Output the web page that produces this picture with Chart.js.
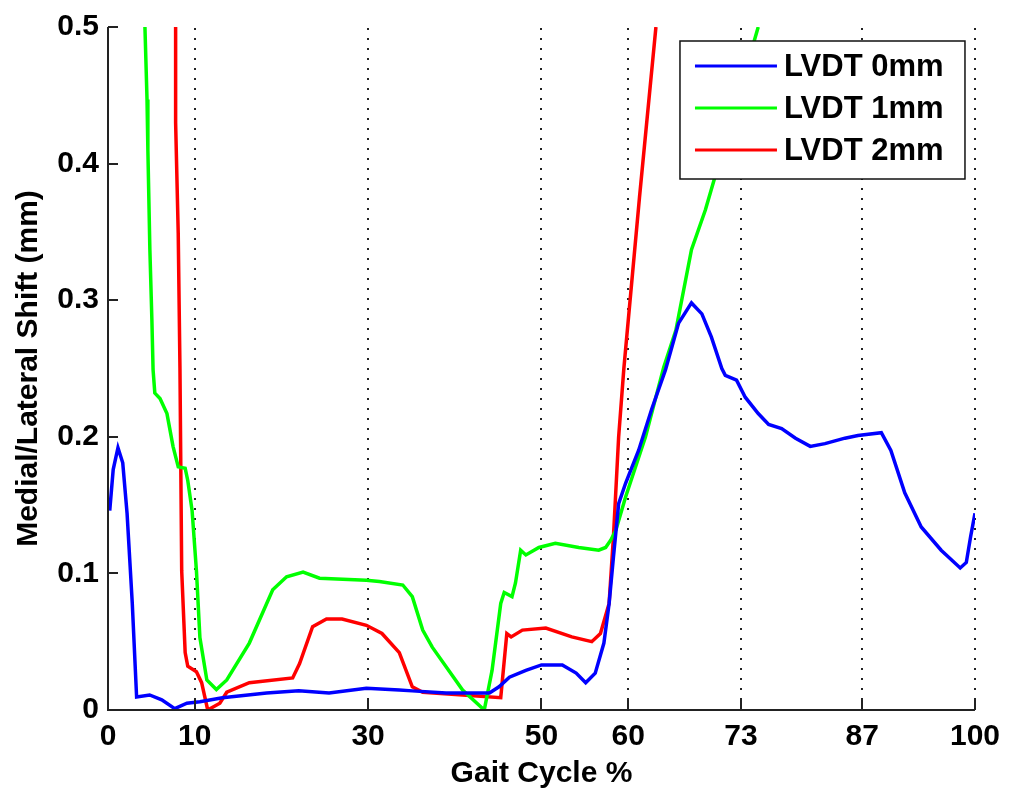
<!DOCTYPE html>
<html>
<head>
<meta charset="utf-8">
<script src="https://cdn.jsdelivr.net/npm/chart.js@4"></script>
<style>
  html, body { margin: 0; padding: 0; background: #fff; }
</style>
</head>
<body>
<canvas id="myChart" width="1009" height="795"></canvas>
<script>
// x ticks used in the figure (gait cycle %)
var xTicks = [0, 10, 30, 50, 60, 73, 87, 100];
var yTicks = [0, 0.1, 0.2, 0.3, 0.4, 0.5];

var seriesNames = ['LVDT 0mm', 'LVDT 1mm', 'LVDT 2mm'];
var seriesColors = ['#0000ff', '#00ff00', '#ff0000'];

// LVDT 0mm
var blueX = [0.2, 0.6, 1.15, 1.7, 2.2, 2.8, 3.3, 4.8, 6.2, 7.7, 9.1, 10.6, 13.2, 18.3, 22, 25.5, 29.8, 33.6,
  35.1, 39, 44, 45.1, 46.3, 48.2, 50, 52.4, 54, 55.1, 56.2, 57.2, 57.8, 58.3, 58.9, 59.7, 61.2, 62.7, 64.3,
  65.8, 67.3, 68.5, 69.6, 70.8, 71.2, 72.5, 73.5, 75, 76.2, 77.7, 79.3, 81, 82.7, 85, 86.5, 89.2, 90.3,
  91.9, 93.8, 96.1, 98.3, 99, 99.5, 100];
var blueY = [0.146, 0.176, 0.192, 0.181, 0.144, 0.078, 0.0095, 0.011, 0.0075, 0.001, 0.005, 0.006, 0.009, 0.0125, 0.014, 0.0125, 0.016, 0.0146,
  0.014, 0.0125, 0.0125, 0.017, 0.024, 0.029, 0.033, 0.033, 0.027, 0.020, 0.027, 0.049, 0.078, 0.112, 0.151, 0.166, 0.19, 0.22, 0.249,
  0.283, 0.298, 0.29, 0.273, 0.25, 0.245, 0.2415, 0.229, 0.217, 0.209, 0.206, 0.199, 0.193, 0.195, 0.199, 0.201, 0.203, 0.19,
  0.159, 0.134, 0.117, 0.104, 0.108, 0.127, 0.144];

// LVDT 1mm
var greenX = [4.26, 4.5, 4.6, 4.83, 5.06, 5.2, 5.4, 6.0, 6.8, 7.5, 8.1, 8.9, 9.2, 9.7, 10.2, 10.6, 11.4, 12.5, 13.7,
  16.3, 19, 20.6, 22.5, 24.4, 29.8, 31.3, 34, 35.1, 36.3, 37.4, 40.9, 43.4, 44.3, 45.3, 45.7, 46.6, 47, 47.6, 48.2,
  49.7, 51.6, 54.3, 56.6, 57.4, 58, 58.6, 59.7, 62, 64.1, 65.5, 67.3, 68.9, 70, 72.5, 75];
var greenY = [0.5, 0.447, 0.41, 0.337, 0.286, 0.249, 0.232, 0.228, 0.217, 0.193, 0.178, 0.177, 0.168, 0.146, 0.102, 0.053, 0.022, 0.015, 0.022,
  0.049, 0.088, 0.0975, 0.101, 0.0965, 0.095, 0.094, 0.0915, 0.083, 0.0585, 0.046, 0.0146, 0, 0.029, 0.078, 0.086, 0.083, 0.093, 0.117, 0.1135,
  0.119, 0.122, 0.119, 0.117, 0.119, 0.1245, 0.132, 0.156, 0.2, 0.251, 0.278, 0.337, 0.366, 0.39, 0.445, 0.5];

// LVDT 2mm
var redX = [7.8, 7.8, 8.1, 8.3, 8.5, 8.9, 9.2, 10.2, 10.8, 11.5, 12.9, 13.7, 16.3, 21.3, 22.1, 23.6, 25.2, 27, 29.8,
  31.6, 33.6, 35.1, 36.3, 40.9, 45.3, 46, 46.5, 47.8, 50.5, 53.5, 55.8, 56.8, 57.8, 58.3, 58.9, 59.5, 61.3, 63.2];
var redY = [0.5, 0.43, 0.349, 0.25, 0.102, 0.042, 0.032, 0.028, 0.02, 0.0, 0.005, 0.013, 0.02, 0.0235, 0.034, 0.061, 0.0666, 0.0666, 0.062,
  0.056, 0.042, 0.017, 0.013, 0.011, 0.009, 0.056, 0.0535, 0.0585, 0.06, 0.0535, 0.05, 0.056, 0.078, 0.127, 0.2, 0.25, 0.375, 0.5];

function zip(xs, ys) {
  return xs.map(function (x, i) { return { x: x, y: ys[i] }; });
}

var font = { family: 'Liberation Sans, Arial, sans-serif', size: 30, weight: 'bold' };

var axesPlugin = {
  id: 'matlabAxes',
  beforeDatasetsDraw: function (chart) {
    var c = chart.ctx, a = chart.chartArea, xs = chart.scales.x;
    c.save();
    c.strokeStyle = '#222';
    c.lineWidth = 2;
    c.setLineDash([2, 8]);
    xTicks.forEach(function (v) {
      if (v === 0) return;
      var px = Math.round(xs.getPixelForValue(v));
      c.beginPath();
      c.moveTo(px, a.bottom);
      c.lineTo(px, a.top);
      c.stroke();
    });
    c.restore();
  },
  afterDatasetsDraw: function (chart) {
    var c = chart.ctx, a = chart.chartArea, xs = chart.scales.x, ys = chart.scales.y;
    c.save();
    c.strokeStyle = '#222';
    c.lineWidth = 2;
    c.beginPath();
    c.moveTo(a.left, a.top);
    c.lineTo(a.left, a.bottom);
    c.lineTo(a.right, a.bottom);
    c.stroke();
    // inward tick marks
    xTicks.forEach(function (v) {
      var px = Math.round(xs.getPixelForValue(v));
      c.beginPath();
      c.moveTo(px, a.bottom);
      c.lineTo(px, a.bottom - 10);
      c.stroke();
    });
    yTicks.forEach(function (v) {
      var py = Math.round(ys.getPixelForValue(v));
      c.beginPath();
      c.moveTo(a.left, py);
      c.lineTo(a.left + 10, py);
      c.stroke();
    });
    c.restore();
  },
  afterDraw: function (chart) {
    var c = chart.ctx, a = chart.chartArea;
    var bx = a.right - 295, by = a.top + 14, bw = 285, bh = 138;
    c.save();
    c.fillStyle = '#fff';
    c.fillRect(bx, by, bw, bh);
    c.strokeStyle = '#111';
    c.lineWidth = 1.5;
    c.strokeRect(bx, by, bw, bh);
    c.font = 'bold 31px "Liberation Sans", Arial, sans-serif';
    c.textBaseline = 'middle';
    c.textAlign = 'left';
    seriesNames.forEach(function (name, i) {
      var ly = by + 25 + i * 42;
      c.strokeStyle = seriesColors[i];
      c.lineWidth = 3;
      c.beginPath();
      c.moveTo(bx + 15, ly);
      c.lineTo(bx + 97, ly);
      c.stroke();
      c.fillStyle = '#000';
      c.fillText(name, bx + 104, ly + 1);
    });
    c.restore();
  }
};

var ctx = document.getElementById('myChart').getContext('2d');
var myChart = new Chart(ctx, {
  type: 'line',
  data: {
    datasets: [{
      label: seriesNames[0],
      data: zip(blueX, blueY),
      borderColor: seriesColors[0],
      borderWidth: 3.5
    }, {
      label: seriesNames[1],
      data: zip(greenX, greenY),
      borderColor: seriesColors[1],
      borderWidth: 3.5
    }, {
      label: seriesNames[2],
      data: zip(redX, redY),
      borderColor: seriesColors[2],
      borderWidth: 3.5
    }]
  },
  options: {
    responsive: false,
    animation: false,
    events: [],
    elements: { point: { radius: 0 }, line: { tension: 0, fill: false } },
    layout: { padding: { top: 27, right: 32, left: 0, bottom: 0 } },
    plugins: { legend: { display: false }, tooltip: { enabled: false } },
    scales: {
      x: {
        type: 'linear',
        min: 0,
        max: 100,
        afterBuildTicks: function (s) { s.ticks = xTicks.map(function (v) { return { value: v }; }); },
        afterFit: function (s) { s.height = 85; },
        grid: { display: false, drawTicks: false, tickLength: 0 },
        border: { display: false },
        ticks: { font: font, color: '#000', padding: 9, autoSkip: false, maxRotation: 0 },
        title: { display: true, text: 'Gait Cycle %', font: font, color: '#000', padding: { top: 0, bottom: 3 } }
      },
      y: {
        min: 0,
        max: 0.5,
        afterBuildTicks: function (s) { s.ticks = yTicks.map(function (v) { return { value: v }; }); },
        afterFit: function (s) { s.width = 108; },
        grid: { display: false, drawTicks: false, tickLength: 0 },
        border: { display: false },
        ticks: {
          font: font, color: '#000', padding: 9,
          callback: function (v) { return v === 0 ? '0' : v.toFixed(1); }
        },
        title: { display: true, text: 'Medial/Lateral Shift (mm)', font: font, color: '#000', padding: { top: 11, bottom: 0 } }
      }
    }
  },
  plugins: [axesPlugin]
});
</script>
</body>
</html>
